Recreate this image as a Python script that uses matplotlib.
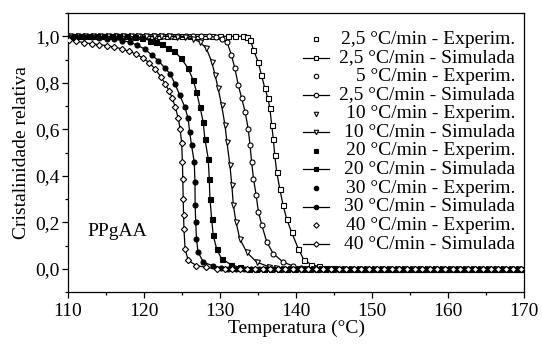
import matplotlib
matplotlib.use('Agg')
import matplotlib.pyplot as plt
from matplotlib.ticker import MultipleLocator, FuncFormatter

plt.rcParams['font.family'] = ['Liberation Serif', 'DejaVu Serif']

# ============================
# Dados (Temperatura °C, cristalinidade relativa)
# ============================
t_25 = [110, 111, 112, 113, 114, 115, 116, 117, 118, 119, 120, 121, 122, 123,
        124, 125, 126, 127, 128, 129, 130, 131, 132, 133,
        133.5, 134.0, 134.4, 135.0, 135.45, 135.9, 136.3, 136.55, 136.8, 137.0,
        137.2, 137.45, 137.85, 138.3, 138.75, 139.4, 140.3, 141.0, 142.0, 143.0,
        144.0, 145.0,
        146, 147, 148, 149, 150, 151, 152, 153, 154, 155, 156, 157, 158, 159,
        160, 161, 162, 163, 164, 165, 166, 167, 168, 169, 170]
x_25 = [1.0, 1.0, 1.0, 1.0, 1.0, 1.0, 1.0, 1.0, 1.0, 1.0, 1.0, 1.0, 1.0, 1.0,
        1.0, 1.0, 1.0, 1.0, 1.0, 1.0, 1.0, 1.0, 1.0, 1.0,
        0.998, 0.985, 0.941, 0.891, 0.833, 0.776, 0.733, 0.690, 0.618, 0.560,
        0.488, 0.417, 0.345, 0.273, 0.216, 0.158, 0.086, 0.040, 0.018, 0.010,
        0.005, 0.002,
        0, 0, 0, 0, 0, 0, 0, 0, 0, 0, 0, 0, 0, 0,
        0, 0, 0, 0, 0, 0, 0, 0, 0, 0, 0]

t_5 = [110.5, 111.5, 112.5, 113.5, 114.5, 115.5, 116.5, 117.5, 118.5, 119.5,
       120.5, 121.5, 122.5, 123.5, 124.5, 125.5, 126.5, 127.5, 128.5,
       129.5, 130.3, 130.9, 131.5, 131.95, 132.4, 132.85, 133.3, 133.7, 133.95,
       134.15, 134.4, 134.75, 135.05, 135.5, 136.15, 137.0, 138.3, 139.6, 140.6,
       141.5, 142.5, 143.5, 144.5, 145.5, 146.5, 147.5, 148.5, 149.5, 150.5,
       151.5, 152.5, 153.5, 154.5, 155.5, 156.5, 157.5, 158.5, 159.5, 160.5,
       161.5, 162.5, 163.5, 164.5, 165.5, 166.5, 167.5, 168.5, 169.5]
x_5 = [1.0, 1.0, 1.0, 1.0, 1.0, 1.0, 1.0, 1.0, 1.0, 1.0,
       1.0, 1.0, 1.0, 1.0, 1.0, 1.0, 1.0, 1.0, 1.0,
       0.997, 0.990, 0.977, 0.919, 0.862, 0.790, 0.733, 0.675, 0.603, 0.531,
       0.460, 0.388, 0.316, 0.244, 0.187, 0.115, 0.065, 0.029, 0.012, 0.005,
       0, 0, 0, 0, 0, 0, 0, 0, 0, 0,
       0, 0, 0, 0, 0, 0, 0, 0, 0, 0,
       0, 0, 0, 0, 0, 0, 0, 0, 0]

t_10 = [110.25, 111.25, 112.25, 113.25, 114.25, 115.25, 116.25, 117.25, 118.25,
        119.25, 120.25, 121.25, 122.25, 123.25,
        124.3, 125.4, 126.4, 127.35, 128.2, 128.9, 129.35, 129.75, 130.2, 130.65,
        130.9, 131.3, 131.55, 131.75, 132.1, 132.6, 133.5, 134.8, 136.5, 137.4,
        138.25, 139.25, 140.25, 141.25, 142.25, 143.25, 144.25, 145.25, 146.25,
        147.25, 148.25, 149.25, 150.25, 151.25, 152.25, 153.25, 154.25, 155.25,
        156.25, 157.25, 158.25, 159.25, 160.25, 161.25, 162.25, 163.25, 164.25,
        165.25, 166.25, 167.25, 168.25, 169.25]
x_10 = [1.0, 1.0, 1.0, 1.0, 1.0, 1.0, 1.0, 1.0, 1.0,
        1.0, 1.0, 1.0, 1.0, 1.0,
        0.998, 0.995, 0.990, 0.975, 0.948, 0.891, 0.833, 0.776, 0.704, 0.618,
        0.546, 0.445, 0.359, 0.273, 0.201, 0.129, 0.072, 0.029, 0.008, 0.003,
        0, 0, 0, 0, 0, 0, 0, 0, 0,
        0, 0, 0, 0, 0, 0, 0, 0, 0,
        0, 0, 0, 0, 0, 0, 0, 0, 0,
        0, 0, 0, 0, 0]

t_20 = [110.75, 111.75, 112.75, 113.75, 114.75, 115.75, 116.75, 117.75,
        118.75, 119.75, 120.75, 121.6, 122.4, 123.2, 124.0, 124.9, 125.8, 126.46,
        126.9, 127.35, 127.78, 128.0, 128.44, 128.58, 128.67, 128.89, 129.1,
        129.55, 130.2, 131.5, 132.6,
        133.75, 134.75, 135.75, 136.75, 137.75, 138.75, 139.75, 140.75, 141.75,
        142.75, 143.75, 144.75, 145.75, 146.75, 147.75, 148.75, 149.75, 150.75,
        151.75, 152.75, 153.75, 154.75, 155.75, 156.75, 157.75, 158.75, 159.75,
        160.75, 161.75, 162.75, 163.75, 164.75, 165.75, 166.75, 167.75, 168.75,
        169.75]
x_20 = [1.0, 1.0, 1.0, 1.0, 1.0, 1.0, 1.0, 1.0,
        0.998, 0.993, 0.982, 0.975, 0.965, 0.950, 0.935, 0.905, 0.862, 0.812,
        0.762, 0.697, 0.632, 0.560, 0.474, 0.388, 0.302, 0.216, 0.144,
        0.086, 0.043, 0.017, 0.006,
        0, 0, 0, 0, 0, 0, 0, 0, 0,
        0, 0, 0, 0, 0, 0, 0, 0, 0,
        0, 0, 0, 0, 0, 0, 0, 0, 0,
        0, 0, 0, 0, 0, 0, 0, 0, 0,
        0]

t_30 = [110.1, 111.1, 112.1, 113.1, 114.1, 115.1, 116.1, 117.1, 118.1, 119.1,
        120.1, 121.0, 121.9, 122.7, 123.4, 124.05, 124.7, 125.35, 125.8, 126.0,
        126.25, 126.6, 126.7, 126.72, 126.8, 126.9, 127.1, 127.8, 129.1, 130.1,
        131.1, 132.1, 133.1, 134.1, 135.1, 136.1, 137.1, 138.1, 139.1, 140.1,
        141.1, 142.1, 143.1, 144.1, 145.1, 146.1, 147.1, 148.1, 149.1, 150.1,
        151.1, 152.1, 153.1, 154.1, 155.1, 156.1, 157.1, 158.1, 159.1, 160.1,
        161.1, 162.1, 163.1, 164.1, 165.1, 166.1, 167.1, 168.1, 169.1]
x_30 = [0.998, 0.997, 0.996, 0.995, 0.993, 0.990, 0.987, 0.982, 0.975, 0.962,
        0.945, 0.920, 0.895, 0.865, 0.840, 0.797, 0.747, 0.697, 0.647, 0.589,
        0.531, 0.460, 0.374, 0.273, 0.201, 0.129, 0.072, 0.029, 0.012, 0.004,
        0, 0, 0, 0, 0, 0, 0, 0, 0, 0,
        0, 0, 0, 0, 0, 0, 0, 0, 0, 0,
        0, 0, 0, 0, 0, 0, 0, 0, 0, 0,
        0, 0, 0, 0, 0, 0, 0, 0, 0]

t_40 = [110.1, 111.1, 112.1, 113.1, 114.1, 115.1, 116.1, 117.1, 118.0, 118.9,
        119.8, 120.7, 121.5, 122.2, 122.8, 123.3, 123.7, 124.1, 124.5, 124.75,
        124.95, 125.05, 125.1, 125.15, 125.2, 125.25, 125.4, 125.8, 126.9, 128.2,
        129.6, 130.6, 131.6, 132.6, 133.6, 134.6, 135.6, 136.6, 137.6, 138.6,
        139.6, 140.6, 141.6, 142.6, 143.6, 144.6, 145.6, 146.6, 147.6, 148.6,
        149.6, 150.6, 151.6, 152.6, 153.6, 154.6, 155.6, 156.6, 157.6, 158.6,
        159.6, 160.6, 161.6, 162.6, 163.6, 164.6, 165.6, 166.6, 167.6, 168.6,
        169.6]
x_40 = [0.985, 0.979, 0.973, 0.968, 0.964, 0.960, 0.954, 0.946, 0.936, 0.924,
        0.908, 0.886, 0.858, 0.826, 0.795, 0.765, 0.735, 0.697, 0.647, 0.603,
        0.539, 0.460, 0.388, 0.302, 0.230, 0.172, 0.086, 0.036, 0.014, 0.006,
        0, 0, 0, 0, 0, 0, 0, 0, 0, 0,
        0, 0, 0, 0, 0, 0, 0, 0, 0, 0,
        0, 0, 0, 0, 0, 0, 0, 0, 0, 0,
        0, 0, 0, 0, 0, 0, 0, 0, 0, 0,
        0]

series = [
    (t_25, x_25, 's', 'white', '2,5 °C/min'),
    (t_5, x_5, 'o', 'white', '5 °C/min'),
    (t_10, x_10, 'v', 'white', '10 °C/min'),
    (t_20, x_20, 's', 'black', '20 °C/min'),
    (t_30, x_30, 'o', 'black', '30 °C/min'),
    (t_40, x_40, 'D', 'white', '40 °C/min'),
]
# o segundo rótulo "Simulada" de 5 °C/min aparece como 2,5 no original
sim_labels = ['2,5 °C/min', '2,5 °C/min', '10 °C/min', '20 °C/min',
              '30 °C/min', '40 °C/min']

FS = 14

# ============================
# Figura
# ============================
fig = plt.figure(figsize=(5.42, 3.44), dpi=100)
ax = fig.add_axes([0.1255, 0.151, 0.8415, 0.811])

for t, xc, mk, fc, lab in series:
    ms = 3.6 if mk != 'D' else 3.2
    ax.plot(t, xc, color='black', lw=0.9, marker=mk, ms=ms, mfc=fc,
            mec='black', mew=0.8, zorder=3)

ax.set_xlim(110, 170)
ax.set_ylim(-0.1, 1.1)
ax.xaxis.set_major_locator(MultipleLocator(10))
ax.xaxis.set_minor_locator(MultipleLocator(5))
ax.yaxis.set_major_locator(MultipleLocator(0.2))
ax.yaxis.set_minor_locator(MultipleLocator(0.1))
ax.yaxis.set_major_formatter(FuncFormatter(lambda v, p: f'{v:.1f}'.replace('.', ',')))
ax.tick_params(which='major', direction='out', length=4, width=0.9, labelsize=FS)
ax.tick_params(axis='x', which='major', pad=4)
ax.tick_params(axis='y', which='major', pad=2)
ax.tick_params(which='minor', direction='out', length=2.5, width=0.9)
for s in ax.spines.values():
    s.set_linewidth(0.9)

ax.set_xlabel('Temperatura (°C)', fontsize=FS, labelpad=0)
ax.set_ylabel('Cristalinidade relativa', fontsize=FS, labelpad=4)
ax.text(112.5, 0.16, 'PPgAA', fontsize=FS, va='center', ha='left')

# Legenda manual (texto alinhado à direita, como no original)
y0, dy = 0.907, 0.0668
row = 0
for (t, xc, mk, fc, lab), slab in zip(series, sim_labels):
    ms = 3.2 if mk != 'D' else 2.8
    for kind in ('Experim.', 'Simulada'):
        yy = y0 - row * dy
        if kind == 'Simulada':
            ax.plot([0.515, 0.572], [yy, yy], transform=ax.transAxes,
                    color='black', lw=0.9, zorder=4)
            text = f'{slab} - Simulada'
        else:
            text = f'{lab} - Experim.'
        ax.plot([0.5435], [yy], transform=ax.transAxes, marker=mk, ms=ms,
                mfc=fc, mec='black', mew=0.8, color='black', zorder=5)
        ax.text(0.98, yy, text, transform=ax.transAxes, ha='right',
                va='center', fontsize=FS)
        row += 1

fig.savefig('out.png', dpi=100)
